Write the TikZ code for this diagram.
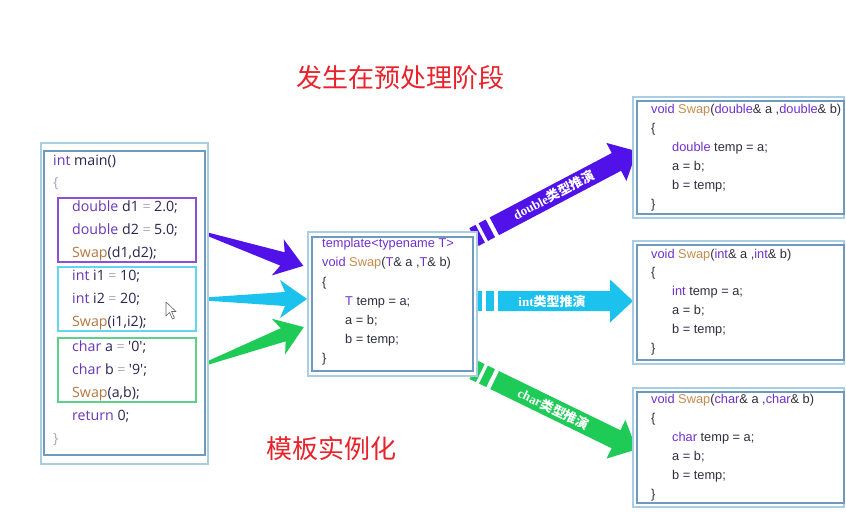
\documentclass[tikz,border=0pt]{standalone}
\usepackage{fontspec}
\setmainfont{Liberation Sans}
\newfontfamily\cjk{Noto Sans CJK SC}
\newfontfamily\uifont{Open Sans}
\newfontfamily\labelserif{Liberation Serif}

\definecolor{kwA}{HTML}{6A36B8}
\definecolor{kwB}{HTML}{7030D0}
\definecolor{swapA}{HTML}{B5773F}
\definecolor{swapB}{HTML}{C98A4E}
\definecolor{inkA}{HTML}{2A2452}
\definecolor{inkB}{HTML}{2E2E3E}
\definecolor{eqgray}{HTML}{A8A8B8}
\definecolor{framelight}{HTML}{A9CDE2}
\definecolor{framedark}{HTML}{7099BE}
\definecolor{grpPurple}{HTML}{8A50D8}
\definecolor{grpCyan}{HTML}{62D6EE}
\definecolor{grpGreen}{HTML}{5CD08C}
\definecolor{arrPurple}{HTML}{5012E8}
\definecolor{arrCyan}{HTML}{1CC2EE}
\definecolor{arrGreen}{HTML}{1ECB56}
\definecolor{titlered}{HTML}{E8232C}

% inline colour helpers for the code listings
\newcommand{\kwa}[1]{\textcolor{kwA}{#1}}
\newcommand{\swa}[1]{\textcolor{swapA}{#1}}
\newcommand{\eqa}{\hspace{0.25em}\textcolor{eqgray}{=}\hspace{0.25em}}
\newcommand{\kwb}[1]{\textcolor{kwB}{#1}}
\newcommand{\swb}[1]{\textcolor{swapB}{#1}}

\tikzset{
  maincode/.style={anchor=west, inner sep=0pt, text height=10pt, text depth=3pt,
    font=\uifont\fontsize{14.2}{16}\selectfont, text=inkA},
  tplcode/.style={anchor=west, inner sep=0pt, text height=9pt, text depth=3pt,
    font=\fontsize{12.8}{14}\selectfont, text=inkB},
  outerframe/.style={draw=framelight, line width=1.3pt},
  innerframe/.style={draw=framedark, line width=1.6pt},
  group/.style={line width=1.1pt},
  title/.style={font=\cjk\fontsize{26}{30}\selectfont, text=titlered, inner sep=0pt},
  pics/taperarrow/.style={code={
    \fill (0,-1) -- ({#1-22},-7) -- ({#1-27},-19) -- (#1,0)
      -- ({#1-27},19) -- ({#1-22},7) -- (0,1) -- cycle;
  }},
  pics/labelarrow/.style args={#1/#2}{code={
    \fill (0,-10) rectangle (7,10);
    \fill (10.5,-10) rectangle (18.5,10);
    \fill (23,-10) -- ({#1-23},-10) -- ({#1-23},-21.5) -- (#1,0)
      -- ({#1-23},21.5) -- ({#1-23},10) -- (23,10) -- cycle;
    \node[transform shape, text=white, inner sep=0pt,
      font=\bfseries\fontsize{13}{15}\selectfont] (-lbl) at ({#1/2-2},0) {#2};
  }},
}

\begin{document}
\begin{tikzpicture}[x=1pt,y=-1pt]
\useasboundingbox[fill=white] (0,0) rectangle (846,515);

% ---- headings ----
\node[title] (stage) at (400,78) {发生在预处理阶段};
\node[title] (inst) at (331,449) {模板实例化};

% ---- tapered arrows from the call groups to the template ----
\coordinate (tailD) at (198,231);
\coordinate (tailI) at (197,299);
\coordinate (tailC) at (197,367);
\pic[fill=arrPurple, rotate=-18.3] at (tailD) {taperarrow=111};
\pic[fill=arrCyan] at (tailI) {taperarrow=110};
\pic[fill=arrGreen, rotate=20.5] at (tailC) {taperarrow=114};

% ---- deduction arrows from the template to the instances ----
\coordinate (startD) at (474,237);
\coordinate (startI) at (475,301);
\coordinate (startC) at (474,370);
\pic[fill=arrPurple, rotate=27.8] (dblarrow) at (startD)
  {labelarrow={184/{\labelserif double}{\cjk 类型推演}}};
\pic[fill=arrCyan] (intarrow) at (startI)
  {labelarrow={158/{\labelserif int}{\cjk 类型推演}}};
\pic[fill=arrGreen, rotate=-26] (chrarrow) at (startC)
  {labelarrow={181/{\labelserif char}{\cjk 类型推演}}};

% ---- main() listing ----
\draw[outerframe, fill=white] (41,143) rectangle (208,464);
\draw[innerframe] (44,151) rectangle (205,455);
\draw[group, draw=grpPurple] (58,198) rectangle (196,262);
\draw[group, draw=grpCyan] (58,267) rectangle (196,331);
\draw[group, draw=grpGreen] (58,338) rectangle (196,402);

\node[maincode] (m1) at (53,162) {\kwa{int} main()};
\node[maincode, text=eqgray] (m2) at (53,184) {\{};
\node[maincode] (m3) at (72,208) {\kwa{double} d1\eqa{}2.0;};
\node[maincode] (m4) at (72,231) {\kwa{double} d2\eqa{}5.0;};
\node[maincode] (m5) at (72,254) {\swa{Swap}(d1,d2);};
\node[maincode] (m6) at (72,277) {\kwa{int} i1\eqa{}10;};
\node[maincode] (m7) at (72,300) {\kwa{int} i2\eqa{}20;};
\node[maincode] (m8) at (72,323) {\swa{Swap}(i1,i2);};
\node[maincode] (m9) at (72,348) {\kwa{char} a\eqa{}'0';};
\node[maincode] (m10) at (72,371) {\kwa{char} b\eqa{}'9';};
\node[maincode] (m11) at (72,394) {\swa{Swap}(a,b);};
\node[maincode] (m12) at (72,417) {\kwa{return} 0;};
\node[maincode, text=eqgray] (m13) at (53,440) {\}};

% mouse pointer
\draw[fill=white, draw=gray!80!black, line width=0.6pt, line join=round]
  (166,302) -- (166,316) -- (169.5,312.5) -- (172.5,319) -- (174.5,318)
  -- (171.5,311.5) -- (176,311.5) -- cycle;

% ---- template listing ----
\draw[outerframe, fill=white] (308,232) rectangle (477,376);
\draw[innerframe] (312,237) rectangle (473,371);
\node[tplcode] (t1) at (322,244) {\kwb{template<typename T>}};
\node[tplcode] (t2) at (322,263) {\kwb{void} \swb{Swap}(\kwb{T}\& a ,\kwb{T}\& b)};
\node[tplcode] (t3) at (322,283) {\{};
\node[tplcode] (t4) at (345,302) {\kwb{T} temp = a;};
\node[tplcode] (t5) at (345,321) {a = b;};
\node[tplcode] (t6) at (345,340) {b = temp;};
\node[tplcode] (t7) at (322,359) {\}};

% ---- instantiated functions ----
\draw[outerframe, fill=white] (633,97) rectangle (844,218);
\draw[innerframe] (637,101) rectangle (844,214);
\node[tplcode] (d1) at (651,110) {\kwb{void} \swb{Swap}(\kwb{double}\& a ,\kwb{double}\& b)};
\node[tplcode] (d2) at (651,129) {\{};
\node[tplcode] (d3) at (672,148) {\kwb{double} temp = a;};
\node[tplcode] (d4) at (672,167) {a = b;};
\node[tplcode] (d5) at (672,186) {b = temp;};
\node[tplcode] (d6) at (651,205) {\}};

\draw[outerframe, fill=white] (633,241) rectangle (844,364);
\draw[innerframe] (637,245) rectangle (844,360);
\node[tplcode] (i1) at (651,255) {\kwb{void} \swb{Swap}(\kwb{int}\& a ,\kwb{int}\& b)};
\node[tplcode] (i2) at (651,273) {\{};
\node[tplcode] (i3) at (672,292) {\kwb{int} temp = a;};
\node[tplcode] (i4) at (672,311) {a = b;};
\node[tplcode] (i5) at (672,330) {b = temp;};
\node[tplcode] (i6) at (651,349) {\}};

\draw[outerframe, fill=white] (633,388) rectangle (844,507);
\draw[innerframe] (637,392) rectangle (844,503);
\node[tplcode] (c1) at (651,400) {\kwb{void} \swb{Swap}(\kwb{char}\& a ,\kwb{char}\& b)};
\node[tplcode] (c2) at (651,419) {\{};
\node[tplcode] (c3) at (672,438) {\kwb{char} temp = a;};
\node[tplcode] (c4) at (672,457) {a = b;};
\node[tplcode] (c5) at (672,476) {b = temp;};
\node[tplcode] (c6) at (651,495) {\}};
\end{tikzpicture}
\end{document}
